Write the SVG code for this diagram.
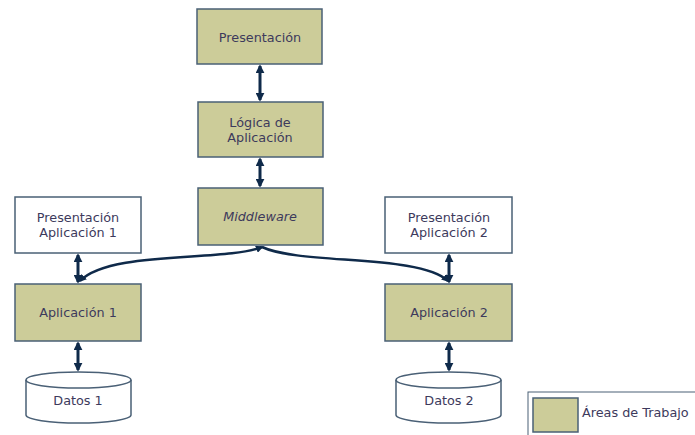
<svg xmlns="http://www.w3.org/2000/svg" width="695" height="435" viewBox="0 0 695 435">
  <defs>
    <style>
      .work { fill: #cccc99; stroke: #4a6076; stroke-width: 1.5; }
      .plain { fill: #ffffff; stroke: #4a6076; stroke-width: 1.5; }
      .lbl { font-family: "DejaVu Sans", Verdana, sans-serif; font-size: 12.8px; fill: #3d3a5c; text-anchor: middle; }
      .link { fill: none; stroke: #0f2a4a; stroke-width: 3; }
      .curve { fill: none; stroke: #0f2a4a; stroke-width: 2.5; }
    </style>
    <marker id="head" viewBox="0 0 10 10" refX="8" refY="5" markerWidth="3" markerHeight="3" orient="auto-start-reverse" markerUnits="strokeWidth">
      <path d="M0,0 L10,5 L0,10 Z" fill="#0f2a4a"/>
    </marker>
  </defs>

  <rect width="695" height="435" fill="#ffffff"/>

  <!-- Connectors -->
  <g id="connectors">
    <line class="link" x1="260" y1="66" x2="260" y2="100" marker-start="url(#head)" marker-end="url(#head)"/>
    <line class="link" x1="260" y1="159" x2="260" y2="186" marker-start="url(#head)" marker-end="url(#head)"/>
    <line class="link" x1="78" y1="255" x2="78" y2="282" marker-start="url(#head)" marker-end="url(#head)"/>
    <line class="link" x1="449" y1="255" x2="449" y2="282" marker-start="url(#head)" marker-end="url(#head)"/>
    <line class="link" x1="78" y1="343" x2="78" y2="370" marker-start="url(#head)" marker-end="url(#head)"/>
    <line class="link" x1="449" y1="343" x2="449" y2="370" marker-start="url(#head)" marker-end="url(#head)"/>
    <path class="curve" d="M262,247 C225,262 110,250 80,281" marker-start="url(#head)" marker-end="url(#head)"/>
    <path class="curve" d="M262,247 C300,265 420,254 448,281" marker-end="url(#head)"/>
  </g>

  <g id="presentacion">
    <rect class="work" x="197" y="9" width="125" height="55"/>
    <text class="lbl" x="260" y="42">Presentación</text>
  </g>

  <g id="logica">
    <rect class="work" x="198" y="102" width="125" height="55"/>
    <text class="lbl" x="260" y="127">Lógica de</text>
    <text class="lbl" x="260" y="142">Aplicación</text>
  </g>

  <g id="middleware">
    <rect class="work" x="198" y="188" width="125" height="57"/>
    <text class="lbl" x="260" y="221" font-style="italic">Middleware</text>
  </g>

  <g id="presentacion-app1">
    <rect class="plain" x="15" y="197" width="126" height="56"/>
    <text class="lbl" x="78" y="222">Presentación</text>
    <text class="lbl" x="78" y="237">Aplicación 1</text>
  </g>

  <g id="app1">
    <rect class="work" x="15" y="284" width="126" height="57"/>
    <text class="lbl" x="78" y="317">Aplicación 1</text>
  </g>

  <g id="datos1">
    <path class="plain" d="M26,380 A52.5,8 0 0 1 131,380 L131,415 A52.5,8 0 0 1 26,415 Z"/>
    <path fill="none" stroke="#4a6076" stroke-width="1.5" d="M26,380 A52.5,8 0 0 0 131,380"/>
    <text class="lbl" x="78" y="405">Datos 1</text>
  </g>

  <g id="presentacion-app2">
    <rect class="plain" x="385" y="197" width="127" height="56"/>
    <text class="lbl" x="449" y="222">Presentación</text>
    <text class="lbl" x="449" y="237">Aplicación 2</text>
  </g>

  <g id="app2">
    <rect class="work" x="385" y="284" width="127" height="57"/>
    <text class="lbl" x="449" y="317">Aplicación 2</text>
  </g>

  <g id="datos2">
    <path class="plain" d="M396,380 A52.5,8 0 0 1 501,380 L501,415 A52.5,8 0 0 1 396,415 Z"/>
    <path fill="none" stroke="#4a6076" stroke-width="1.5" d="M396,380 A52.5,8 0 0 0 501,380"/>
    <text class="lbl" x="449" y="405">Datos 2</text>
  </g>

  <g id="legend">
    <rect x="528" y="392" width="170" height="50" fill="#ffffff" stroke="#4a6076" stroke-width="1"/>
    <rect class="work" x="533" y="398" width="45" height="34"/>
    <text class="lbl" x="582" y="417" style="text-anchor:start">Áreas de Trabajo</text>
  </g>
</svg>
